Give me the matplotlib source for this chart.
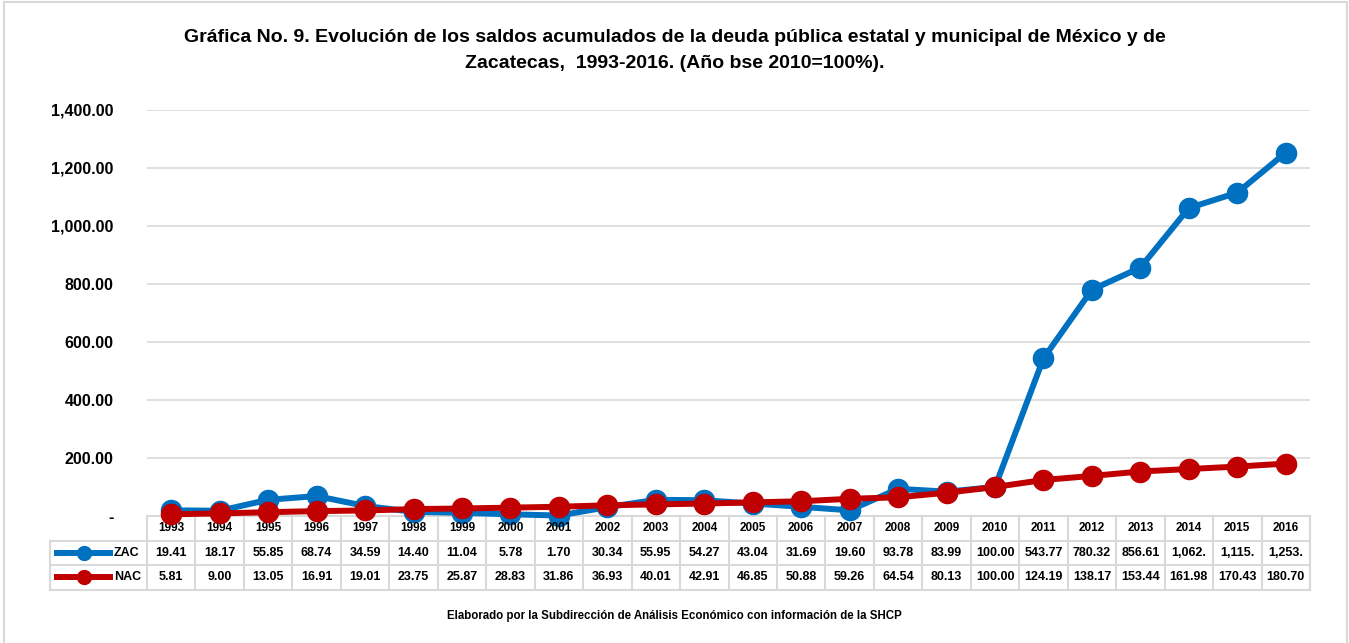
import numpy as np
import matplotlib.pyplot as plt
from matplotlib.lines import Line2D

plt.rcParams['font.family'] = ['Liberation Sans', 'DejaVu Sans']
plt.rcParams['font.weight'] = 'bold'

years = [str(y) for y in range(1993, 2017)]
zac = [19.41, 18.17, 55.85, 68.74, 34.59, 14.40, 11.04, 5.78, 1.70, 30.34,
       55.95, 54.27, 43.04, 31.69, 19.60, 93.78, 83.99, 100.00, 543.77,
       780.32, 856.61, 1062.0, 1115.0, 1253.0]
nac = [5.81, 9.00, 13.05, 16.91, 19.01, 23.75, 25.87, 28.83, 31.86, 36.93,
       40.01, 42.91, 46.85, 50.88, 59.26, 64.54, 80.13, 100.00, 124.19,
       138.17, 153.44, 161.98, 170.43, 180.70]
zac_txt = [f"{v:.2f}" for v in zac[:21]] + ["1,062.", "1,115.", "1,253."]
nac_txt = [f"{v:.2f}" for v in nac]
yticks = [0, 200, 400, 600, 800, 1000, 1200, 1400]
ytick_labels = ["-", "200.00", "400.00", "600.00", "800.00",
                "1,000.00", "1,200.00", "1,400.00"]

BLUE = "#0070C0"
RED = "#C00000"
GRID = "#D9D9D9"

W, H = 1349, 643
fig = plt.figure(figsize=(W / 100, H / 100), dpi=100)

# outer frame (bottom edge falls outside the picture)
fig.add_artist(Line2D([4 / W, 4 / W, 1347 / W, 1347 / W], [0, 1 - 2 / H, 1 - 2 / H, 0],
                      transform=fig.transFigure, color=GRID, lw=1.5))

left, right, bottom, top = 147 / W, 1310 / W, 1 - 516 / H, 1 - 110 / H
ax = fig.add_axes([left, bottom, right - left, top - bottom])

x = np.arange(len(years))
ax.plot(x, zac, color=BLUE, lw=4.3, marker="o", ms=14.5, zorder=3, clip_on=False)
ax.plot(x, nac, color=RED, lw=4.3, marker="o", ms=14.5, zorder=4, clip_on=False)

ax.set_xlim(-0.5, len(years) - 0.5)
ax.set_ylim(0, 1400)
ax.set_yticks(yticks)
ax.set_yticklabels(ytick_labels, fontsize=11.5, fontweight="bold")
ax.set_xticks([])
ax.tick_params(axis="y", length=0, pad=24)
ax.yaxis.grid(True, color=GRID, lw=1.2)
ax.set_axisbelow(True)
for s in ax.spines.values():
    s.set_visible(False)

# data table under the axis
n = len(years)
rh = 24.5 / (516 - 110)  # row height in axes fraction
lab_left = (50 - 147) / (1310 - 147)
tkw = dict(transform=ax.transAxes, clip_on=False, color=GRID, lw=1.5)
for r in range(4):
    yy = -r * rh
    x0 = 0 if r == 0 else lab_left
    ax.add_line(Line2D([x0, 1], [yy, yy], **tkw))
for c in range(n + 1):
    ax.add_line(Line2D([c / n, c / n], [0, -3 * rh], **tkw))
ax.add_line(Line2D([lab_left, lab_left], [-rh, -3 * rh], **tkw))

for i in range(n):
    cx = (i + 0.5) / n
    ax.text(cx, -0.5 * rh, years[i], transform=ax.transAxes, ha="center",
            va="center", fontsize=8.5, fontweight="bold")
    ax.text(cx, -1.5 * rh, zac_txt[i], transform=ax.transAxes, ha="center",
            va="center", fontsize=9, fontweight="bold")
    ax.text(cx, -2.5 * rh, nac_txt[i], transform=ax.transAxes, ha="center",
            va="center", fontsize=9, fontweight="bold")

for r, (name, col) in enumerate([("ZAC", BLUE), ("NAC", RED)]):
    yy = -(1.5 + r) * rh
    k0, k1 = (57 - 147) / 1163, (110 - 147) / 1163
    ax.add_line(Line2D([k0, k1], [yy, yy], transform=ax.transAxes, clip_on=False,
                       color=col, lw=4.3))
    ax.add_line(Line2D([(k0 + k1) / 2], [yy], transform=ax.transAxes, clip_on=False,
                       color=col, marker="o", ms=10))
    ax.text((114 - 147) / 1163, yy, name, transform=ax.transAxes, ha="left",
            va="center", fontsize=9, fontweight="bold")

fig.text(0.5, 1 - 38 / H,
         "Gráfica No. 9. Evolución de los saldos acumulados de la deuda pública estatal y municipal de México y de",
         ha="center", va="center", fontsize=14, fontweight="bold")
fig.text(0.5, 1 - 64 / H, "Zacatecas,  1993-2016. (Año bse 2010=100%).",
         ha="center", va="center", fontsize=14, fontweight="bold")
fig.text(0.5, 1 - 616 / H,
         "Elaborado por la Subdirección de Análisis Económico con información de la SHCP",
         ha="center", va="center", fontsize=8.3, fontweight="bold")

fig.savefig("out.png", dpi=100)
